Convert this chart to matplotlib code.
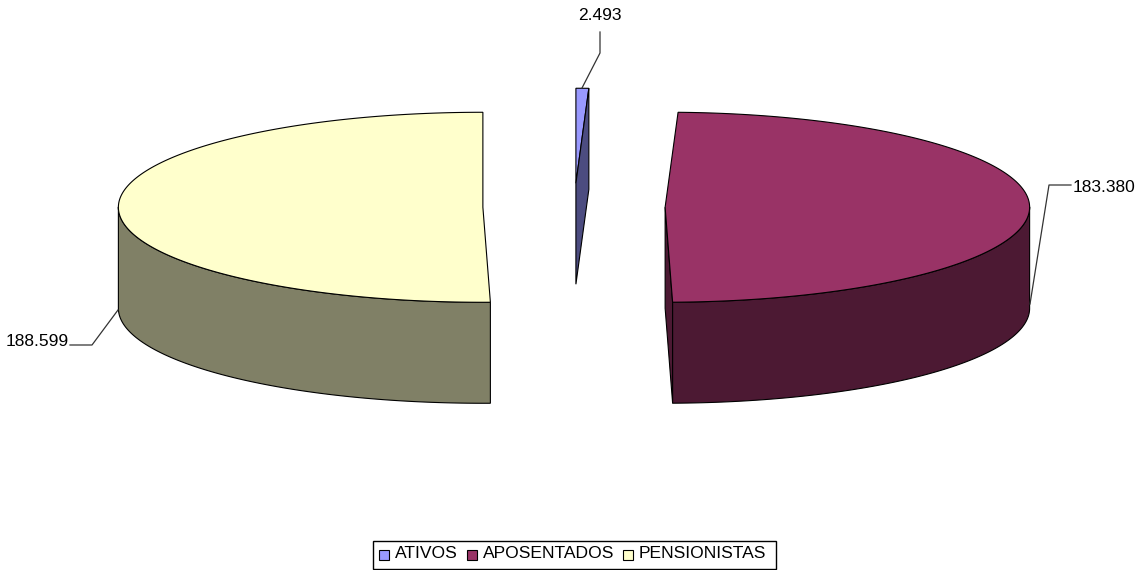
import numpy as np
import matplotlib
matplotlib.use('Agg')
import matplotlib.pyplot as plt
from matplotlib.patches import Polygon, Rectangle

plt.rcParams['font.family'] = ['Liberation Sans', 'DejaVu Sans']

categories = ['ATIVOS', 'APOSENTADOS', 'PENSIONISTAS']
values = [2493, 183380, 188599]
value_labels = ['2.493', '183.380', '188.599']
top_colors = ['#9999FF', '#993366', '#FFFFCC']
side_colors = ['#4C4C80', '#4C1933', '#808066']

# pie geometry in pixels
cx, cy = 574, 207
rx, ry = 364.5, 95
depth = 101
explode = 0.25

fig = plt.figure(figsize=(11.42, 5.70), dpi=100)
ax = fig.add_axes([0, 0, 1, 1])
ax.set_xlim(0, 1142)
ax.set_ylim(570, 0)
ax.axis('off')


def rim(ox, oy, a0, a1, dy=0):
    # angles in degrees, clockwise from 12 o'clock
    a = np.linspace(a0, a1, max(int(abs(a1 - a0)) * 2, 2))
    # slices look a bit narrower close to the vertical axis in the 3D view
    a = np.interp(a, [0, 10, 170, 190, 350, 360], [0, 8.5, 171, 189, 351.5, 360])
    t = np.radians(a)
    return np.column_stack([ox + rx * np.sin(t), oy - ry * np.cos(t) + dy])


def draw_poly(pts, color, z):
    ax.add_patch(Polygon(pts, closed=True, facecolor=color, edgecolor='black', linewidth=0.8, zorder=z))


fractions = np.array(values) / sum(values)
edges = np.concatenate([[0], np.cumsum(fractions) * 360])

for i in range(len(values)):
    a0, a1 = edges[i], edges[i + 1]
    mid = np.radians((a0 + a1) / 2)
    ox = cx + explode * rx * np.sin(mid)
    oy = cy - explode * ry * np.cos(mid)
    apex = np.array([[ox, oy]])

    # outer wall on the front half
    w0, w1 = max(a0, 90), min(a1, 270)
    if w1 > w0:
        upper = rim(ox, oy, w0, w1)
        lower = rim(ox, oy, w1, w0, depth)
        draw_poly(np.vstack([upper, lower]), side_colors[i], 3)

    # top face
    draw_poly(np.vstack([apex, rim(ox, oy, a0, a1)]), top_colors[i], 4)

    # cut face at the end of the slice, only where it turns to the viewer
    if i < 2:
        end = rim(ox, oy, a1, a1)[:1]
        quad = np.vstack([apex, end, end + [0, depth], apex + [0, depth]])
        draw_poly(quad, side_colors[i], 2 if i == 1 else 5)

# leader lines and data labels
leaders = [
    ([582, 600, 600], [88, 53, 32], (600, 15)),
    ([1030, 1049, 1071], [304, 185, 185], (1073, 188)),
    ([118, 92, 70], [310, 345, 345], (37, 342)),
]
for i, (xs, ys, pos) in enumerate(leaders):
    ax.plot(xs, ys, color='#333333', linewidth=0.9, zorder=6)
    ha = 'left' if i == 1 else 'center'
    ax.text(pos[0], pos[1], value_labels[i], fontsize=12.5, ha=ha, va='center', color='black')

# legend
ax.add_patch(Rectangle((373, 541), 403, 28, facecolor='white', edgecolor='black', linewidth=1, zorder=1))
swatch_x = [379, 467, 623]
text_x = [395, 483, 639]
for i, name in enumerate(categories):
    ax.add_patch(Rectangle((swatch_x[i], 550), 10, 10, facecolor=top_colors[i], edgecolor='black', linewidth=0.8, zorder=2))
    ax.text(text_x[i], 553, name, fontsize=12.6, ha='left', va='center', color='black', zorder=3)

fig.savefig('out.png', dpi=100, facecolor='white')
plt.close(fig)
